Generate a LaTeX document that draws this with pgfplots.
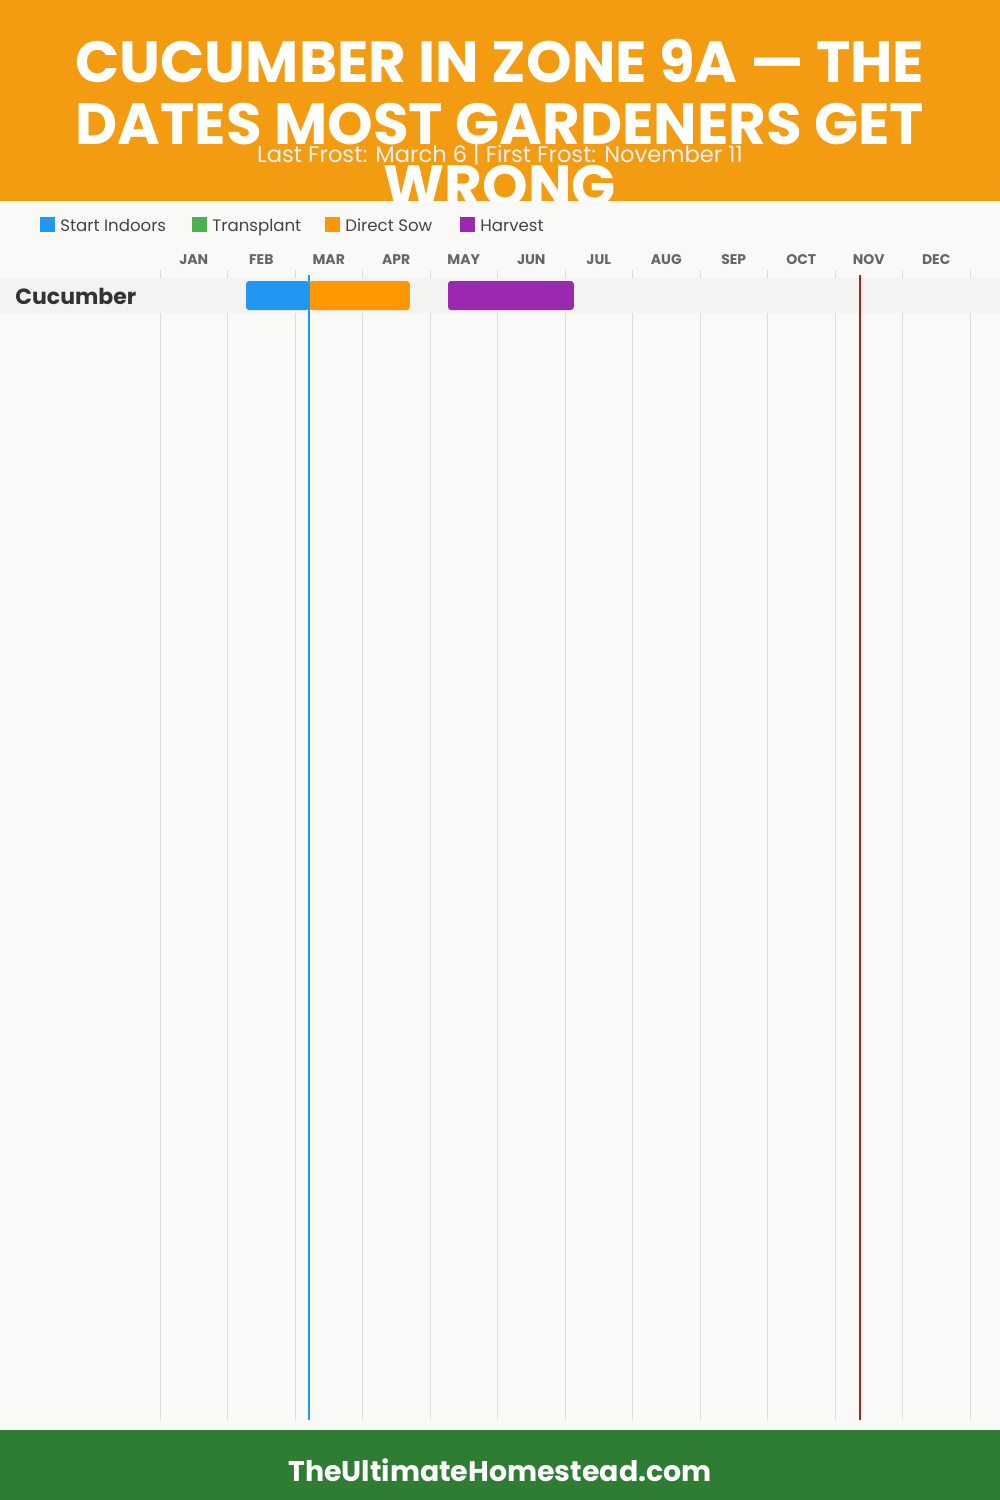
\documentclass[border=0pt]{standalone}
\usepackage{pgfplots}
\pgfplotsset{compat=1.18}
\usepackage{fontspec}
\setmainfont{Poppins}
\definecolor{hdr}{HTML}{F39C12}
\definecolor{bg}{HTML}{F9F9F7}
\definecolor{band}{HTML}{F3F3F2}
\definecolor{gridc}{HTML}{DDDDDD}
\definecolor{ftr}{HTML}{2E7D32}
\definecolor{cStart}{HTML}{2196F3}
\definecolor{cTrans}{HTML}{4CAF50}
\definecolor{cSow}{HTML}{FF9800}
\definecolor{cHarv}{HTML}{9C27B0}
\definecolor{frostR}{HTML}{B71C1C}
\definecolor{txt}{HTML}{444444}
\definecolor{mon}{HTML}{666666}
\begin{document}
\begin{tikzpicture}
\begin{scope}[x=0.5pt,y=-0.5pt]
  % header
  \fill[hdr] (0,0) rectangle (1000,201);
  \tikzset{ttl/.style={anchor=base,inner sep=0pt,text=white,font=\fontsize{29}{31}\selectfont\bfseries}}
  \node[ttl] at (500,82) {CUCUMBER IN ZONE 9A — THE};
  \node[ttl] at (500,144) {DATES MOST GARDENERS GET};
  \node[ttl] at (500,206) {WRONG};
  \node[anchor=base,inner sep=0pt,text=white!88!gray,font=\fontsize{11.3}{12}\selectfont] at (500,162) {Last Frost: March 6 | First Frost: November 11};
  % chart background (clips the third title line)
  \fill[bg] (0,201) rectangle (1000,1430);
  % legend
  \foreach \xx/\cc/\tt in {40/cStart/Start Indoors,192/cTrans/Transplant,325/cSow/Direct Sow,460/cHarv/Harvest}{
    \fill[\cc] (\xx,217) rectangle ++(15,15);
    \node[anchor=base west,inner sep=0pt,text=txt,font=\fontsize{8.3}{10}\selectfont] at (\xx+20,231) {\tt};
  }
  % month labels
  \foreach \m [count=\i from 0] in {JAN,FEB,MAR,APR,MAY,JUN,JUL,AUG,SEP,OCT,NOV,DEC}{
    \node[anchor=base,inner sep=0pt,text=mon,font=\fontsize{7}{8}\selectfont\bfseries] at (160+67.5*\i+33.75,264) {\m};
  }
  % grid lines
  \foreach \i in {0,...,12}{
    \draw[gridc,line width=0.5pt] (160+67.5*\i,270) -- (160+67.5*\i,1420);
  }
  % row band
  \fill[band] (0,278) rectangle (1000,313);
  \node[anchor=base west,inner sep=0pt,text=black!80,font=\fontsize{11}{12}\selectfont\bfseries] at (15,304) {Cucumber};
  % footer
  \fill[ftr] (0,1430) rectangle (1000,1500);
  \node[anchor=base,inner sep=0pt,text=white,font=\fontsize{14.2}{16}\selectfont\bfseries] at (500,1481) {TheUltimateHomestead.com};
\end{scope}
\begin{axis}[at={(0,0)},anchor=north west,scale only axis,width=500pt,height=750pt,
  xmin=-2.370370,xmax=12.444444,ymin=0,ymax=1500,y dir=reverse,hide axis,clip=false]
  % Start Indoors: Feb 8 - Mar 6
  \addplot[fill=cStart,draw=none,rounded corners=1.5pt] coordinates {(1.274,281) (2.207,281) (2.207,310) (1.274,310)} -- cycle;
  % Direct Sow: Mar 6 - Apr 21
  \addplot[fill=cSow,draw=none,rounded corners=1.5pt] coordinates {(2.207,281) (3.70,281) (3.70,310) (2.207,310)} -- cycle;
  % Harvest: May 8 - Jul 4
  \addplot[fill=cHarv,draw=none,rounded corners=1.5pt] coordinates {(4.267,281) (6.13,281) (6.13,310) (4.267,310)} -- cycle;
  % frost lines
  \addplot[cStart,line width=1pt] coordinates {(2.207,275) (2.207,1420)};
  \addplot[frostR,line width=1pt] coordinates {(10.37,275) (10.37,1420)};
\end{axis}
\end{tikzpicture}
\end{document}
